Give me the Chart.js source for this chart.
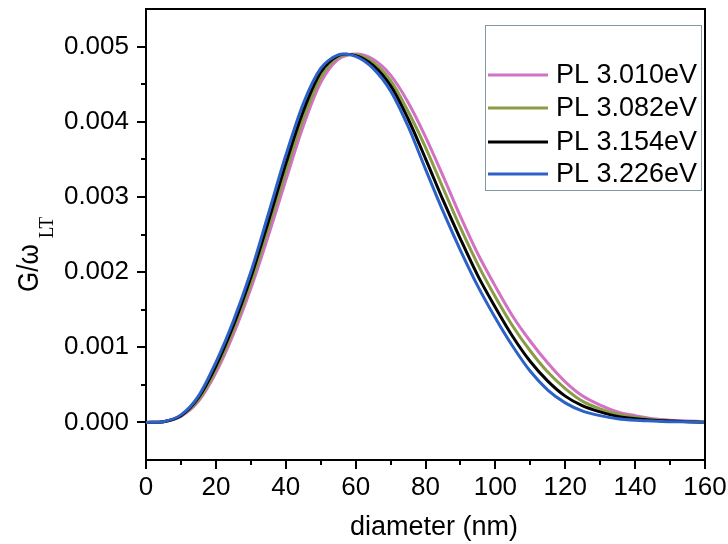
<!DOCTYPE html>
<html><head><meta charset="utf-8">
<script src="https://cdn.jsdelivr.net/npm/chart.js@4.4.1/dist/chart.umd.min.js"></script>
<style>html,body{margin:0;padding:0;background:#fff;}#wrap{width:728px;height:544px;}</style>
</head><body><div id="wrap"><canvas id="c" width="728" height="544"></canvas></div>
<script>
// ---- data ----
const diameters = [0,5,10,15,20,25,30,35,40,45,50,55,60,65,70,75,80,85,90,95,100,105,110,115,120,125,130,135,140,145,150,155,160];
const pl3010 = [0,0.00001,0.00008,0.00028,0.00066,0.00117,0.00178,0.00248,0.00322,0.00394,0.00452,0.00483,0.0049,0.00483,0.00462,0.00426,0.0038,0.00328,0.00274,0.00224,0.00181,0.00141,0.00108,0.00079,0.00054,0.00035,0.00023,0.00014,0.00009,0.00005,0.00003,0.00002,0.00001];
const pl3082 = [0,0.00001,0.00009,0.0003,0.0007,0.00123,0.00185,0.00258,0.00333,0.00404,0.00459,0.00486,0.00489,0.00479,0.00455,0.00414,0.00366,0.00312,0.00259,0.0021,0.00167,0.00128,0.00095,0.00067,0.00045,0.00028,0.00018,0.00011,0.00007,0.00004,0.00002,0.00001,0.00001];
const pl3154 = [0,0.00001,0.00009,0.00033,0.00075,0.00129,0.00193,0.00267,0.00344,0.00414,0.00466,0.00488,0.00488,0.00475,0.00448,0.00404,0.00351,0.00296,0.00244,0.00195,0.00153,0.00114,0.00081,0.00055,0.00035,0.00022,0.00014,0.00008,0.00005,0.00003,0.00002,0.00001,0];
const pl3226 = [0,0.00001,0.0001,0.00035,0.0008,0.00135,0.002,0.00277,0.00355,0.00424,0.00471,0.00489,0.00487,0.00471,0.00441,0.00394,0.00337,0.00281,0.00229,0.00181,0.00139,0.00101,0.00068,0.00043,0.00026,0.00015,0.00009,0.00005,0.00003,0.00002,0.00001,0.00001,0];
const seriesLabels = ['PL 3.010eV','PL 3.082eV','PL 3.154eV','PL 3.226eV'];
const seriesColors = ['#d272c4','#8c9c44','#000000','#2c62c8'];
const xTicks = [0,20,40,60,80,100,120,140,160];
const xMinorTicks = [10,30,50,70,90,110,130,150];
const yTicks = [0,0.001,0.002,0.003,0.004,0.005];
const yTickLabels = ['0.000','0.001','0.002','0.003','0.004','0.005'];
const yMinorTicks = [0.0005,0.0015,0.0025,0.0035,0.0045];
const xTitle = 'diameter (nm)';
const yTitleMain = 'G/\u03C9';
const yTitleSub = 'LT';

const allSeries = [pl3010, pl3082, pl3154, pl3226];
const datasets = allSeries.map((s,i)=>({
  label: seriesLabels[i],
  data: diameters.map((d,j)=>({x:d, y:s[j]})),
  borderColor: seriesColors[i],
  backgroundColor: seriesColors[i],
  borderWidth: 3,
  pointRadius: 0,
  fill: false,
  tension: 0.3,
  order: 4 - i
}));

const FONT = 'Liberation Sans, Arial, sans-serif';

const decor = {
  id: 'decor',
  afterDraw(chart){
    const {ctx, chartArea:a, scales:{x, y}} = chart;
    ctx.save();
    ctx.strokeStyle = '#000'; ctx.lineWidth = 2;
    ctx.beginPath();
    ctx.moveTo(a.left - 1, a.top); ctx.lineTo(a.right, a.top); ctx.lineTo(a.right, a.bottom + 1);
    ctx.stroke();
    // minor ticks
    ctx.beginPath();
    yMinorTicks.forEach(v=>{ const p = Math.round(y.getPixelForValue(v)); ctx.moveTo(a.left, p); ctx.lineTo(a.left - 5, p); });
    xMinorTicks.forEach(v=>{ const p = Math.round(x.getPixelForValue(v)); ctx.moveTo(p, a.bottom); ctx.lineTo(p, a.bottom + 5); });
    ctx.stroke();
    // x title
    ctx.fillStyle = '#000';
    ctx.font = '27px ' + FONT; ctx.textAlign = 'center'; ctx.textBaseline = 'middle';
    ctx.fillText(xTitle, 434, 528);
    // legend
    const lx = 485, ly = 25, lw = 216, lh = 165;
    ctx.fillStyle = '#fff'; ctx.fillRect(lx, ly, lw, lh);
    ctx.strokeStyle = '#7f9aa6'; ctx.lineWidth = 1;
    ctx.strokeRect(lx + 0.5, ly + 0.5, lw, lh);
    const rows = [75, 108, 142, 174];
    ctx.font = '27px ' + FONT; ctx.textBaseline = 'middle'; ctx.textAlign = 'left';
    chart.data.datasets.forEach((ds,i)=>{
      ctx.strokeStyle = ds.borderColor; ctx.lineWidth = 3;
      ctx.beginPath(); ctx.moveTo(488, rows[i]); ctx.lineTo(548, rows[i]); ctx.stroke();
      ctx.fillStyle = '#000'; ctx.fillText(ds.label, 556, rows[i] + 1);
    });
    // y title with subscript
    ctx.translate(38, 292); ctx.rotate(-Math.PI/2); ctx.scale(1, 1.15);
    ctx.textBaseline = 'alphabetic'; ctx.fillStyle = '#000';
    ctx.font = '26px ' + FONT;
    ctx.fillText(yTitleMain, 0, 0);
    const w = ctx.measureText(yTitleMain).width;
    ctx.font = '19px Liberation Serif, Times New Roman, serif';
    ctx.fillText(yTitleSub, w + 6, 13);
    ctx.restore();
  }
};

new Chart(document.getElementById('c'), {
  type: 'line',
  data: { datasets },
  options: {
    responsive: false,
    animation: false,
    layout: { padding: { top: 9, right: 23, left: 0, bottom: 0 } },
    plugins: { legend: { display: false }, tooltip: { enabled: false } },
    scales: {
      x: {
        type: 'linear', min: 0, max: 160,
        afterBuildTicks: s => { s.ticks = xTicks.map(v=>({value:v})); },
        afterFit: s => { s.height = 84; s.paddingLeft = 0; s.paddingRight = 0; },
        border: { display: true, color: '#000', width: 2 },
        grid: { drawOnChartArea: false, drawTicks: true, tickLength: 9, color: '#000', lineWidth: 2 },
        ticks: { color: '#000', font: { family: FONT, size: 26 }, padding: 3, maxRotation: 0, autoSkip: false },
        title: { display: false }
      },
      y: {
        type: 'linear', min: -0.0005, max: 0.0055,
        afterBuildTicks: s => { s.ticks = yTicks.map(v=>({value:v})); },
        afterFit: s => { s.width = 146; s.paddingTop = 0; s.paddingBottom = 0; },
        border: { display: true, color: '#000', width: 2 },
        grid: { drawOnChartArea: false, drawTicks: true, tickLength: 9, color: '#000', lineWidth: 2 },
        ticks: { color: '#000', font: { family: FONT, size: 26 }, padding: 8, autoSkip: false,
          callback: (v) => { const i = yTicks.findIndex(t => Math.abs(t - v) < 1e-9); return i >= 0 ? yTickLabels[i] : ''; } }
      }
    }
  },
  plugins: [decor]
});
</script></body></html>
